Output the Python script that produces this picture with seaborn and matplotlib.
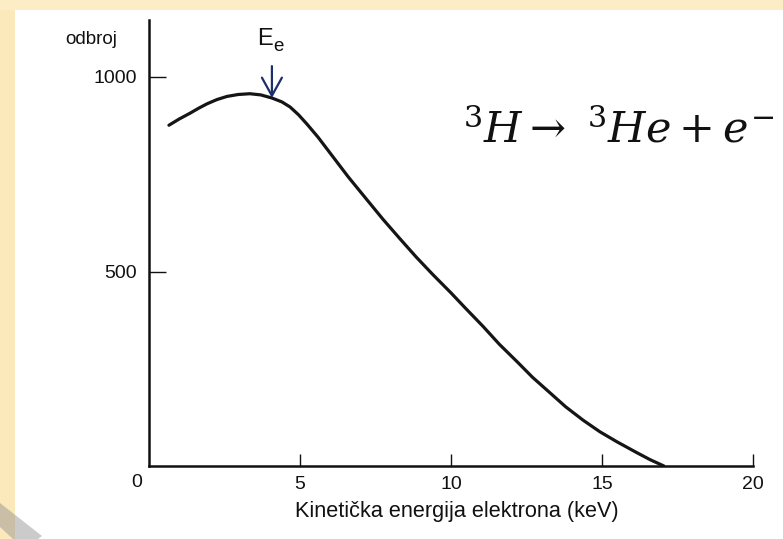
import matplotlib
matplotlib.use("Agg")
import matplotlib.pyplot as plt
from matplotlib.patches import Rectangle, Polygon
import pandas as pd
import seaborn as sns

# Tritium beta spectrum: electron kinetic energy (keV) vs. counts
energy_kev = [0.66, 1.0, 1.36, 1.65, 1.92, 2.25, 2.58, 2.95, 3.34, 3.7, 4.07,
              4.4, 4.67, 4.95, 5.23, 5.6, 6.09, 6.6, 7.2, 7.75, 8.3, 8.85,
              9.4, 10.0, 10.5, 11.06, 11.6, 12.19, 12.7, 13.28, 13.8, 14.37,
              14.93, 15.5, 16.16, 16.6, 17.05]
counts = [876, 892, 907, 920, 931, 942, 950, 955, 957, 954, 946,
          936, 923, 903, 879, 845, 795, 743, 686, 634, 585, 537,
          492, 445, 404, 359, 313, 268, 228, 188, 152, 118,
          88, 62, 34, 16, 0]

x_ticks = [5, 10, 15, 20]
y_ticks = [500, 1000]

# mean electron energy marker
mean_energy = 4.07
mean_count = 946

sns.set_theme(style="white")
plt.rcParams["font.family"] = ["Liberation Sans", "DejaVu Sans"]

W, H = 783, 539
fig = plt.figure(figsize=(W / 100, H / 100), dpi=100)
fig.patch.set_facecolor("white")

# slide frame decoration
band = "#fbe9bc"
fig.add_artist(Rectangle((0, 0), 15 / W, 1, transform=fig.transFigure,
                         facecolor=band, edgecolor="none", zorder=0))
fig.add_artist(Rectangle((0, 1 - 10 / H), 1, 10 / H, transform=fig.transFigure,
                         facecolor="#fcedc6", edgecolor="none", zorder=0))
tri = [(0, 503), (42, 536), (38, 539), (13, 539), (0, 527)]
fig.add_artist(Polygon([(x / W, 1 - y / H) for x, y in tri], closed=True,
                       transform=fig.transFigure, facecolor="#8c8c8c",
                       alpha=0.45, edgecolor="none", zorder=1))

ax = fig.add_axes([149 / W, 1 - 466 / H, (753 - 149) / W, (466 - 20) / H])
ax.set_facecolor("none")

df = pd.DataFrame({"E": energy_kev, "N": counts})
sns.lineplot(data=df, x="E", y="N", ax=ax, color="#151515", linewidth=2.3,
             sort=False)
ax.lines[0].set_solid_joinstyle("round")

ax.set_xlim(0, 20)
ax.set_ylim(0, 446 / 0.389)
ax.set_xticks(x_ticks)
ax.set_xticklabels([str(t) for t in x_ticks])
ax.set_yticks(y_ticks)
ax.set_yticklabels([str(t) for t in y_ticks])
ax.set_xlabel("")
ax.set_ylabel("")

for side in ("top", "right"):
    ax.spines[side].set_visible(False)
for side in ("left", "bottom"):
    ax.spines[side].set_color("#111111")
    ax.spines[side].set_linewidth(1.8)

ax.tick_params(axis="x", direction="in", length=9, width=1.0, pad=7,
               labelsize=14, colors="#111111", bottom=True)
ax.tick_params(axis="y", direction="in", length=12, width=1.0, pad=8.5,
               labelsize=14, colors="#111111", left=True)

# shared origin label
ax.annotate("0", xy=(0, 0), xycoords="data", xytext=(-8.6, -12.2),
            textcoords="offset points", ha="center", va="center",
            fontsize=14, color="#111111")

fig.text(65 / W, 1 - 40 / H, "odbroj", ha="left", va="center",
         fontsize=13.5, color="#111111")
fig.text(457 / W, 1 - 511 / H, "Kinetička energija elektrona (keV)",
         ha="center", va="center", fontsize=15.6, color="#111111")

# E_e label and arrow
ax.text(3.57, 1082, "E", fontsize=17, ha="left", va="baseline", color="#111111")
ax.text(4.12, 1066, "e", fontsize=13.5, ha="left", va="baseline", color="#111111")
ax.annotate("", xy=(mean_energy, mean_count), xytext=(mean_energy, 1028),
            arrowprops=dict(arrowstyle="->,head_length=0.65,head_width=0.36",
                            color="#1c2e6b", lw=1.6, shrinkA=0, shrinkB=0,
                            mutation_scale=20))

# decay equation
ax.text(10.4, 832, r"$^{3}H \rightarrow\ ^{3}He + e^{-}$", fontsize=31,
        math_fontfamily="dejavuserif", ha="left", va="baseline",
        color="#111111", clip_on=False)

fig.savefig("out.png", dpi=100)
